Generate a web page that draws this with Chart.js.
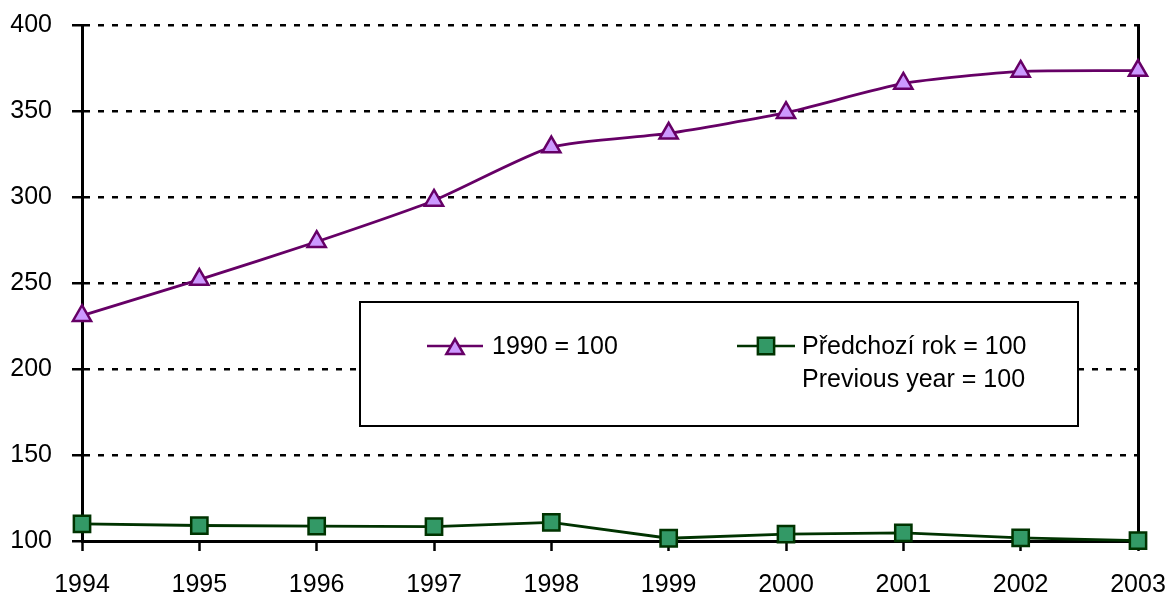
<!DOCTYPE html>
<html>
<head>
<meta charset="utf-8">
<script src="https://cdn.jsdelivr.net/npm/chart.js@4/dist/chart.umd.min.js"></script>
<style>
  html, body { margin: 0; padding: 0; background: #fff; }
  #wrap { width: 1166px; height: 598px; }
</style>
</head>
<body>
<div id="wrap"><canvas id="indexChart"></canvas></div>
<script>
// data
var years = ['1994', '1995', '1996', '1997', '1998', '1999', '2000', '2001', '2002', '2003'];
var base1990 = [231, 252, 274, 298, 329, 337, 349, 366, 373, 373.5];
var prevYear = [110, 109, 108.6, 108.4, 110.8, 101.6, 104, 104.7, 101.8, 100.2];
var label1990 = '1990 = 100';
var labelPrev = ['Předchozí rok = 100', 'Previous year = 100'];
var yTicks = [100, 150, 200, 250, 300, 350, 400];

var fontFam = '"Liberation Sans Narrow", "Arial Narrow", "Liberation Sans", Arial, sans-serif';
var fontSize = 25;
var purple = '#660066';
var lilac = '#CC99FF';
var dkGreen = '#003300';
var green = '#339966';

function marker(ctx, style, x, y, r, fill, stroke) {
    ctx.save();
    ctx.fillStyle = fill;
    ctx.strokeStyle = stroke;
    ctx.lineWidth = 2.5;
    ctx.setLineDash([]);
    ctx.beginPath();
    if (style === 'triangle') {
        ctx.moveTo(x, y - r);
        ctx.lineTo(x + 0.866 * r, y + 0.5 * r);
        ctx.lineTo(x - 0.866 * r, y + 0.5 * r);
        ctx.closePath();
    } else {
        var s = Math.SQRT1_2 * r;
        ctx.rect(x - s, y - s, 2 * s, 2 * s);
    }
    ctx.fill();
    ctx.stroke();
    ctx.restore();
}

// legend box sitting inside the plot, over the grid but under the lines
var legendBox = {
    id: 'legendBox',
    beforeDatasetsDraw: function(chart) {
        var ctx = chart.ctx;
        ctx.save();
        ctx.setLineDash([]);
        ctx.fillStyle = '#fff';
        ctx.fillRect(360, 302, 718, 124);
        ctx.strokeStyle = '#000';
        ctx.lineWidth = 2;
        ctx.strokeRect(360, 302, 718, 124);

        ctx.font = fontSize + 'px ' + fontFam;
        ctx.textBaseline = 'middle';
        ctx.fillStyle = '#000';

        // first series
        ctx.strokeStyle = purple;
        ctx.lineWidth = 2.5;
        ctx.beginPath(); ctx.moveTo(427, 346); ctx.lineTo(483, 346); ctx.stroke();
        marker(ctx, 'triangle', 455, 349, 10, lilac, purple);
        ctx.fillText(label1990, 492, 347);

        // second series
        ctx.strokeStyle = dkGreen;
        ctx.beginPath(); ctx.moveTo(737, 346); ctx.lineTo(795, 346); ctx.stroke();
        marker(ctx, 'rect', 766, 346, 11.5, green, dkGreen);
        ctx.fillText(labelPrev[0], 802, 347);
        ctx.fillText(labelPrev[1], 802, 380);
        ctx.restore();
    }
};

document.addEventListener('DOMContentLoaded', function() {
    var ctx = document.getElementById('indexChart').getContext('2d');

    new Chart(ctx, {
        type: 'line',
        data: {
            labels: years,
            datasets: [{
                label: label1990,
                data: base1990,
                borderColor: purple,
                borderWidth: 2.8,
                tension: 0.2,
                pointStyle: 'triangle',
                pointRadius: 10.5,
                pointBackgroundColor: lilac,
                pointBorderColor: purple,
                pointBorderWidth: 2.5,
                clip: false
            }, {
                label: labelPrev.join(' '),
                data: prevYear,
                borderColor: dkGreen,
                borderWidth: 2.8,
                tension: 0,
                pointStyle: 'rect',
                pointRadius: 11.5,
                pointBackgroundColor: green,
                pointBorderColor: dkGreen,
                pointBorderWidth: 2.5,
                clip: false
            }]
        },
        options: {
            responsive: true,
            maintainAspectRatio: false,
            animation: false,
            layout: { padding: { top: 25, left: 0, right: 0, bottom: 0 } },
            plugins: {
                legend: { display: false },
                tooltip: { enabled: false }
            },
            scales: {
                x: {
                    offset: false,
                    afterFit: function(scale) {
                        scale.height = 57;
                        scale.paddingLeft = 0;
                        scale.paddingRight = 0;
                    },
                    grid: {
                        drawOnChartArea: false,
                        drawTicks: true,
                        tickLength: 10,
                        tickColor: '#000',
                        tickWidth: 2.5
                    },
                    border: { display: true, color: '#000', width: 3 },
                    ticks: {
                        color: '#000',
                        padding: 19,
                        maxRotation: 0,
                        autoSkip: false,
                        font: { family: fontFam, size: fontSize }
                    }
                },
                y: {
                    min: 100,
                    max: 400,
                    afterFit: function(scale) {
                        scale.width = 82;
                        scale.paddingTop = 0;
                        scale.paddingBottom = 0;
                    },
                    afterBuildTicks: function(scale) {
                        scale.ticks = yTicks.map(function(v) { return { value: v }; });
                    },
                    grid: {
                        color: '#000',
                        lineWidth: 2.5,
                        tickLength: 10,
                        tickColor: '#000',
                        tickWidth: 2.5,
                        tickBorderDash: []
                    },
                    border: { display: true, color: '#000', width: 3, dash: [6, 8] },
                    ticks: {
                        color: '#000',
                        padding: 20,
                        font: { family: fontFam, size: fontSize }
                    }
                },
                yRight: {
                    position: 'right',
                    min: 100,
                    max: 400,
                    afterFit: function(scale) { scale.width = 28; },
                    grid: { display: false },
                    border: { display: true, color: '#000', width: 3 },
                    ticks: { display: false }
                }
            }
        },
        plugins: [legendBox]
    });
});
</script>
</body>
</html>
